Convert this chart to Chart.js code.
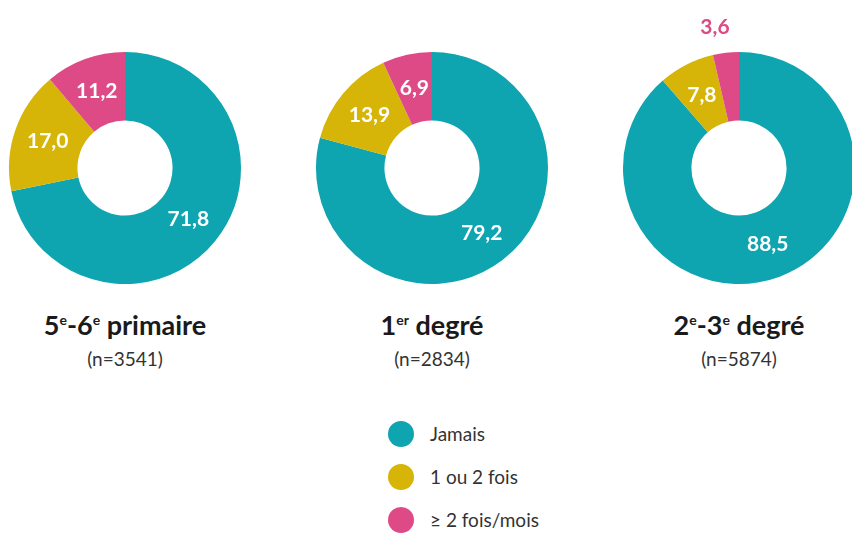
<!DOCTYPE html>
<html>
<head>
<meta charset="utf-8">
<script src="https://cdn.jsdelivr.net/npm/chart.js@4.4.1/dist/chart.umd.min.js"></script>
<style>
  body { margin: 0; background: #fff; width: 852px; height: 533px; overflow: hidden; position: relative; font-family: Lato, sans-serif; }
  .box { position: absolute; top: 10px; width: 270px; height: 275px; }
  .ttl { position: absolute; width: 300px; text-align: center; font-family: Lato, sans-serif; font-weight: bold; font-size: 27px; color: #1a1a1a; top: 308px; }
  .ttl sup { font-size: 14px; vertical-align: 10px; }
  .n { position: absolute; width: 300px; text-align: center; font-size: 19px; color: #333; top: 347px; }
  #legend { position: absolute; left: 388px; top: 420px; }
  .item { height: 43px; display: flex; align-items: flex-start; font-size: 19px; color: #333; }
  .dot { width: 26px; height: 26px; border-radius: 50%; margin-right: 16px; margin-top: 1px; }
  .item span { line-height: 28px; }
</style>
</head>
<body>
<div class="box" id="b0"><canvas id="c0"></canvas></div>
<div class="box" id="b1"><canvas id="c1"></canvas></div>
<div class="box" id="b2"><canvas id="c2"></canvas></div>
<div id="legend"></div>
<script>
const categories = ["Jamais", "1 ou 2 fois", "\u2265 2 fois/mois"];
const colors = ["#0ea4b0", "#d6b408", "#de4a85"];
const groups = ["5<sup>e</sup>-6<sup>e</sup> primaire", "1<sup>er</sup> degré", "2<sup>e</sup>-3<sup>e</sup> degré"];
const sampleSizes = ["(n=3541)", "(n=2834)", "(n=5874)"];
const primaire = [71.8, 17.0, 11.2];
const degre1 = [79.2, 13.9, 6.9];
const degre23 = [88.5, 7.8, 3.6];
const series = [primaire, degre1, degre23];
const centersX = [125, 432, 739];

Chart.defaults.font.family = "Lato, sans-serif";

const sliceLabels = {
  id: "sliceLabels",
  afterDatasetsDraw(chart) {
    const ctx = chart.ctx;
    const meta = chart.getDatasetMeta(0);
    const vals = chart.data.datasets[0].data;
    ctx.save();
    ctx.font = "bold 21px Lato, sans-serif";
    ctx.textAlign = "center";
    ctx.textBaseline = "middle";
    meta.data.forEach((arc, i) => {
      const txt = vals[i].toFixed(1).replace(".", ",");
      if (vals[i] < 5) {
        const mid = (arc.startAngle + arc.endAngle) / 2;
        const r = arc.outerRadius + 26;
        ctx.fillStyle = colors[i];
        ctx.fillText(txt, arc.x + Math.cos(mid) * r - 8, arc.y + Math.sin(mid) * r);
      } else {
        const p = arc.getCenterPoint();
        ctx.fillStyle = "#fff";
        ctx.fillText(txt, p.x, p.y);
      }
    });
    ctx.restore();
  }
};

series.forEach((vals, k) => {
  const box = document.getElementById("b" + k);
  box.style.left = (centersX[k] - 135) + "px";
  new Chart(document.getElementById("c" + k), {
    type: "doughnut",
    data: {
      labels: categories,
      datasets: [{ data: vals, backgroundColor: colors, borderWidth: 0 }]
    },
    options: {
      responsive: true,
      maintainAspectRatio: false,
      animation: false,
      cutout: "41%",
      layout: { padding: { top: 42, bottom: 1, left: 19, right: 19 } },
      plugins: { legend: { display: false }, tooltip: { enabled: false } }
    },
    plugins: [sliceLabels]
  });

  const t = document.createElement("div");
  t.className = "ttl";
  t.innerHTML = groups[k];
  t.style.left = (centersX[k] - 150) + "px";
  document.body.appendChild(t);
  const n = document.createElement("div");
  n.className = "n";
  n.textContent = sampleSizes[k];
  n.style.left = (centersX[k] - 150) + "px";
  document.body.appendChild(n);
});

const legend = document.getElementById("legend");
categories.forEach((c, i) => {
  const it = document.createElement("div");
  it.className = "item";
  it.innerHTML = '<div class="dot" style="background:' + colors[i] + '"></div><span></span>';
  it.querySelector("span").textContent = c;
  legend.appendChild(it);
});
</script>
</body>
</html>
